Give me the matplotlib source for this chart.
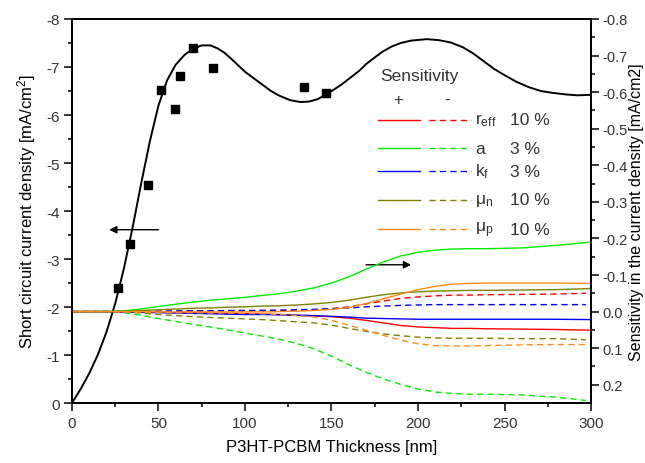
import matplotlib
matplotlib.use('Agg')
import matplotlib.pyplot as plt

plt.rcParams['font.family'] = ['Liberation Sans', 'DejaVu Sans']
plt.rcParams['mathtext.default'] = 'regular'
plt.rcParams['axes.unicode_minus'] = False

# Measured short circuit current density (left axis)
meas_x = [26.6, 33.5, 43.9, 51.6, 59.5, 62.6, 69.7, 81.7, 133.9, 146.6]
meas_j = [-2.40, -3.31, -4.55, -6.53, -6.12, -6.82, -7.40, -6.98, -6.59, -6.45]

# Simulated curve (left axis)
sim_x = [0, 5, 10, 15, 20, 25, 30, 35, 40, 45, 50, 55, 60, 65, 70, 75, 80,
         84, 88, 93, 100, 109, 115, 120, 126, 132, 137, 142, 147, 151, 156,
         161, 166, 170, 175, 180, 185, 190, 196, 205, 212, 219, 226, 232, 238,
         244, 250, 257, 264, 271, 278, 285, 292, 300]
sim_j = [0, -0.29, -0.62, -1.01, -1.485, -2.075, -2.80, -3.65, -4.575, -5.45,
         -6.20, -6.725, -7.05, -7.25, -7.38, -7.45, -7.45, -7.39, -7.30, -7.14,
         -6.90, -6.66, -6.50, -6.40, -6.31, -6.27, -6.28, -6.33, -6.43, -6.52,
         -6.64, -6.78, -6.92, -7.06, -7.20, -7.33, -7.43, -7.50, -7.55, -7.58,
         -7.56, -7.51, -7.41, -7.28, -7.12, -6.96, -6.83, -6.69, -6.58, -6.50,
         -6.46, -6.43, -6.41, -6.42]

# Sensitivity curves (right axis)
sens_x = [0, 20, 30, 40, 50, 60, 70, 80, 90, 100, 110, 120, 130, 140, 150,
          160, 170, 180, 190, 200, 210, 220, 230, 240, 260, 280, 300]
reff_p = [0, 0, 0.001, 0.002, 0.002, 0.003, 0.003, 0.004, 0.005, 0.006, 0.007,
          0.008, 0.010, 0.012, 0.014, 0.018, 0.024, 0.031, 0.038, 0.042, 0.044,
          0.046, 0.046, 0.047, 0.048, 0.049, 0.051]
reff_m = [0, 0, 0, 0, 0, -0.001, -0.001, -0.002, -0.002, -0.002, -0.003,
          -0.003, -0.004, -0.005, -0.008, -0.013, -0.021, -0.029, -0.036,
          -0.040, -0.043, -0.045, -0.045, -0.046, -0.047, -0.048, -0.050]
a_p = [0, 0, -0.002, -0.007, -0.014, -0.020, -0.026, -0.031, -0.035, -0.039,
       -0.044, -0.049, -0.056, -0.065, -0.078, -0.095, -0.116, -0.136, -0.152,
       -0.162, -0.168, -0.171, -0.172, -0.172, -0.174, -0.181, -0.190]
a_m = [0, 0, 0.003, 0.010, 0.019, 0.027, 0.035, 0.042, 0.050, 0.059, 0.067,
       0.076, 0.087, 0.102, 0.122, 0.145, 0.166, 0.184, 0.199, 0.212, 0.220,
       0.224, 0.226, 0.226, 0.228, 0.234, 0.243]
kf_p = [0, 0, 0.001, 0.002, 0.003, 0.004, 0.005, 0.006, 0.007, 0.008, 0.008,
        0.009, 0.010, 0.011, 0.013, 0.015, 0.018, 0.019, 0.020, 0.021, 0.021,
        0.021, 0.021, 0.021, 0.021, 0.021, 0.022]
kf_m = [0, 0, 0, -0.001, -0.001, -0.002, -0.002, -0.002, -0.003, -0.003,
        -0.003, -0.004, -0.005, -0.006, -0.008, -0.010, -0.013, -0.015, -0.017,
        -0.018, -0.019, -0.019, -0.019, -0.019, -0.019, -0.019, -0.019]
mun_p = [0, 0, -0.001, -0.003, -0.005, -0.007, -0.009, -0.010, -0.012, -0.013,
         -0.015, -0.016, -0.018, -0.021, -0.025, -0.031, -0.039, -0.046,
         -0.051, -0.054, -0.056, -0.057, -0.058, -0.058, -0.059, -0.060,
         -0.063]
mun_m = [0, 0, 0.001, 0.004, 0.008, 0.011, 0.014, 0.016, 0.018, 0.020, 0.022,
         0.025, 0.028, 0.031, 0.037, 0.046, 0.054, 0.061, 0.066, 0.070, 0.072,
         0.073, 0.073, 0.073, 0.074, 0.074, 0.077]
mup_p = [0, 0, 0, 0, 0.001, 0.001, 0.001, 0.001, 0.001, 0.001, 0.001, 0,
         -0.001, -0.003, -0.006, -0.011, -0.022, -0.035, -0.048, -0.060,
         -0.069, -0.075, -0.077, -0.078, -0.078, -0.078, -0.077]
mup_m = [0, 0, 0.001, 0.002, 0.002, 0.003, 0.003, 0.004, 0.004, 0.005, 0.006,
         0.008, 0.011, 0.015, 0.024, 0.037, 0.051, 0.065, 0.078, 0.088, 0.093,
         0.094, 0.094, 0.093, 0.091, 0.090, 0.090]

params = ['r$_{eff}$', 'a', 'k$_f$', 'μ$_n$', 'μ$_p$']
percents = ['10 %', '3 %', '3 %', '10 %', '10 %']
colors = ['#ff0000', '#00ee00', '#0000ff', '#808000', '#ff8c1a']
plus = [reff_p, a_p, kf_p, mun_p, mup_p]
minus = [reff_m, a_m, kf_m, mun_m, mup_m]

fig, ax = plt.subplots(figsize=(6.45, 4.64), dpi=100)
fig.subplots_adjust(left=0.1116, right=0.9163, bottom=0.1293, top=0.9569)

ax.plot(sim_x, sim_j, color='black', lw=1.4, zorder=3)
ax.plot(meas_x, meas_j, 's', color='black', ms=6.3, zorder=4)

ax.set_xlim(0, 300)
ax.set_ylim(0, -8)
ax.set_xticks(range(0, 301, 50))
ax.set_xticks(range(25, 300, 50), minor=True)
ax.set_yticks(range(0, -9, -1))
ax.set_yticks([-0.5 - i for i in range(8)], minor=True)
ax.set_xlabel('P3HT-PCBM Thickness [nm]', fontsize=12, labelpad=7)
ax.set_ylabel('Short circuit current density [mA/cm$^{2}$]', fontsize=12,
              labelpad=6)

ax2 = ax.twinx()
dash = (0, (4.5, 3))
for c, yp, ym in zip(colors, plus, minus):
    ax2.plot(sens_x, yp, color=c, lw=1.0)
    ax2.plot(sens_x[:-1] + [297], ym, color=c, lw=1.0, linestyle=dash)
ax2.set_ylim(0.25, -0.8)
ax2.set_yticks([-0.8, -0.7, -0.6, -0.5, -0.4, -0.3, -0.2, -0.1, 0.0, 0.1, 0.2])
ax2.set_yticks([-0.75, -0.65, -0.55, -0.45, -0.35, -0.25, -0.15, -0.05, 0.05,
                0.15], minor=True)
ax2.yaxis.set_major_formatter(matplotlib.ticker.FormatStrFormatter('%.1f'))
ax2.set_ylabel('Sensitivity in the current density [mA/cm2]', fontsize=11.5,
               rotation=90, labelpad=1)

for a_ in (ax, ax2):
    for s in a_.spines.values():
        s.set_linewidth(1.3)
    a_.tick_params(which='major', direction='out', length=5.5, width=1.1,
                   labelsize=11, colors='black', labelcolor='#333333')
    a_.tick_params(which='minor', direction='out', length=3.2, width=1.1)
ax2.tick_params(axis='y', which='major', labelsize=10.5, pad=3)
ax.tick_params(axis='y', right=False)
ax.tick_params(axis='x', top=False)

# arrows pointing to the relevant axes
ax.annotate('', xy=(21.5, -3.61), xytext=(50, -3.61),
            arrowprops=dict(arrowstyle='-|>', color='black', lw=1.0,
                            mutation_scale=11, shrinkA=0, shrinkB=0))
ax.annotate('', xy=(196, -2.88), xytext=(170, -2.88),
            arrowprops=dict(arrowstyle='-|>', color='black', lw=1.0,
                            mutation_scale=11, shrinkA=0, shrinkB=0))

# hand made legend
tr = ax2.transAxes
ax2.text(0.669, 0.854, 'Sensitivity', transform=tr, fontsize=12.5,
         ha='center', va='center', color='#333333')
ax2.text(0.629, 0.790, '+', transform=tr, fontsize=12, ha='center',
         va='center', color='#333333')
ax2.text(0.722, 0.790, '-', transform=tr, fontsize=12, ha='center',
         va='center', color='#333333')
rows = [0.738, 0.663, 0.604, 0.529, 0.453]
for yy, c, p, pc in zip(rows, colors, params, percents):
    ax2.plot([0.590, 0.670], [yy, yy], color=c, lw=1.0, transform=tr)
    ax2.plot([0.688, 0.768], [yy, yy], color=c, lw=1.0, linestyle=dash,
             transform=tr)
    ax2.text(0.776, yy, p, transform=tr, fontsize=12.5, ha='left',
             va='center', color='#333333')
    ax2.text(0.843, yy, pc, transform=tr, fontsize=12.5, ha='left',
             va='center', color='#333333')

fig.savefig('out.png', dpi=100)
